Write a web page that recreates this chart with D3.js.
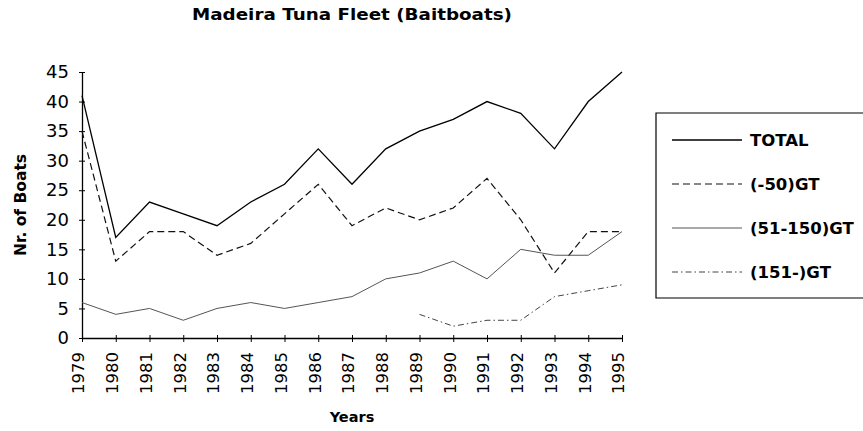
<!DOCTYPE html>
<html>
<head>
<meta charset="utf-8">
<script src="https://cdn.jsdelivr.net/npm/d3@7"></script>
<style>
  body { margin: 0; background: #fff; }
  svg { display: block; }
  text { font-family: "DejaVu Sans", sans-serif; fill: #000; }
  .title, .label { font-weight: bold; }
</style>
</head>
<body>
<svg id="chart" width="863" height="431"></svg>
<script>
const years = [1979, 1980, 1981, 1982, 1983, 1984, 1985, 1986, 1987, 1988, 1989, 1990, 1991, 1992, 1993, 1994, 1995];
const total = [41, 17, 23, 21, 19, 23, 26, 32, 26, 32, 35, 37, 40, 38, 32, 40, 45];
const small = [35, 13, 18, 18, 14, 16, 21, 26, 19, 22, 20, 22, 27, 20, 11, 18, 18];
const medium = [6, 4, 5, 3, 5, 6, 5, 6, 7, 10, 11, 13, 10, 15, 14, 14, 18];
const large = [null, null, null, null, null, null, null, null, null, null, 4, 2, 3, 3, 7, 8, 9];
const yTicks = [0, 5, 10, 15, 20, 25, 30, 35, 40, 45];

const series = [
  { name: 'TOTAL', values: total, stroke: '#000', width: 1.3, dash: null },
  { name: '(-50)GT', values: small, stroke: '#111', width: 1.2, dash: '7,4' },
  { name: '(51-150)GT', values: medium, stroke: '#555', width: 1, dash: null },
  { name: '(151-)GT', values: large, stroke: '#444', width: 1, dash: '6,3,1.5,3' }
];

const svg = d3.select('#chart');

const x = d3.scaleLinear().domain([1979, 1995]).range([82, 622]);
const y = d3.scaleLinear().domain([0, 45]).range([338, 72]);

// title
svg.append('text')
  .attr('class', 'title')
  .attr('x', 352)
  .attr('y', 20)
  .attr('text-anchor', 'middle')
  .attr('font-size', 15)
  .attr('textLength', 320)
  .attr('lengthAdjust', 'spacingAndGlyphs')
  .text('Madeira Tuna Fleet (Baitboats)');

// axes (ticks cross the axis line)
const yAxis = svg.append('g')
  .attr('transform', `translate(${x(1979)},0)`)
  .call(d3.axisLeft(y).tickValues(yTicks).tickSize(3).tickSizeOuter(0).tickPadding(10));
yAxis.selectAll('.tick line').attr('x2', 3).attr('x1', -3);
yAxis.selectAll('text').attr('font-size', 18).attr('font-family', '"DejaVu Sans", sans-serif');

const xAxis = svg.append('g')
  .attr('transform', `translate(0,${y(0)})`)
  .call(d3.axisBottom(x).tickValues(years).tickSize(3).tickSizeOuter(0).tickFormat(d3.format('d')));
xAxis.selectAll('.tick line').attr('y1', -3).attr('y2', 4);
xAxis.selectAll('text')
  .attr('font-size', 16.5)
  .attr('font-family', '"DejaVu Sans", sans-serif')
  .attr('text-anchor', 'end')
  .attr('transform', 'translate(-4,14) rotate(-90)')
  .attr('x', 0)
  .attr('y', 0)
  .attr('dy', '0.36em');
svg.selectAll('.domain').attr('stroke', '#000').attr('stroke-width', 1.3);

// axis titles
svg.append('text')
  .attr('class', 'label')
  .attr('transform', 'translate(26,205) rotate(-90)')
  .attr('text-anchor', 'middle')
  .attr('font-size', 15.5)
  .text('Nr. of Boats');

svg.append('text')
  .attr('class', 'label')
  .attr('x', 352)
  .attr('y', 422)
  .attr('text-anchor', 'middle')
  .attr('font-size', 14.5)
  .text('Years');

// lines
const line = d3.line()
  .defined(d => d.v !== null)
  .x(d => x(d.year))
  .y(d => y(d.v));

svg.selectAll('.series')
  .data(series)
  .enter()
  .append('path')
  .attr('class', 'series')
  .attr('fill', 'none')
  .attr('stroke', s => s.stroke)
  .attr('stroke-width', s => s.width)
  .attr('stroke-dasharray', s => s.dash)
  .attr('d', s => line(years.map((yr, i) => ({ year: yr, v: s.values[i] }))));

// legend (box runs off the right edge)
const legend = svg.append('g');
legend.append('path')
  .attr('d', 'M870,113 H656 V298 H870')
  .attr('fill', 'none')
  .attr('stroke', '#000')
  .attr('stroke-width', 1.2);

const items = legend.selectAll('.item')
  .data(series)
  .enter()
  .append('g')
  .attr('transform', (s, i) => `translate(0,${140 + i * 44})`);
items.append('line')
  .attr('x1', 672).attr('x2', 742)
  .attr('stroke', s => s.stroke)
  .attr('stroke-width', s => s.width)
  .attr('stroke-dasharray', s => s.dash);
items.append('text')
  .attr('x', 750)
  .attr('dy', '0.36em')
  .attr('font-size', 16.5)
  .attr('font-weight', 'bold')
  .text(s => s.name);
</script>
</body>
</html>
